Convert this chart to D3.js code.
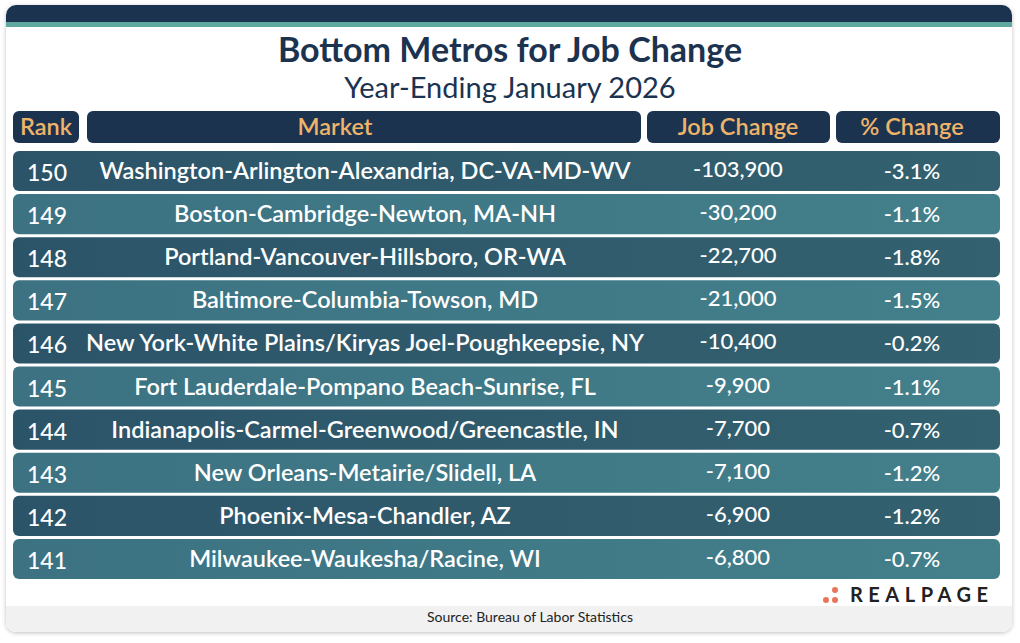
<!DOCTYPE html><html><head><meta charset="utf-8">
<script src="https://cdn.jsdelivr.net/npm/d3@7"></script>
<style>body{margin:0;background:#fff;font-family:Lato,sans-serif}</style></head><body>
<script>
const ranks=[150,149,148,147,146,145,144,143,142,141];
const markets=["Washington-Arlington-Alexandria, DC-VA-MD-WV","Boston-Cambridge-Newton, MA-NH","Portland-Vancouver-Hillsboro, OR-WA","Baltimore-Columbia-Towson, MD","New York-White Plains/Kiryas Joel-Poughkeepsie, NY","Fort Lauderdale-Pompano Beach-Sunrise, FL","Indianapolis-Carmel-Greenwood/Greencastle, IN","New Orleans-Metairie/Slidell, LA","Phoenix-Mesa-Chandler, AZ","Milwaukee-Waukesha/Racine, WI"];
const jobChange=[-103900,-30200,-22700,-21000,-10400,-9900,-7700,-7100,-6900,-6800];
const pctChange=[-3.1,-1.1,-1.8,-1.5,-0.2,-1.1,-0.7,-1.2,-1.2,-0.7];
const headers=["Rank","Market","Job Change","% Change"];
const W=1020,H=643;
const svg=d3.select("body").append("svg").attr("width",W).attr("height",H);
const defs=svg.append("defs");
const f=defs.append("filter").attr("id","sh").attr("x","-5%").attr("y","-5%").attr("width","110%").attr("height","110%");
f.append("feDropShadow").attr("dx",0).attr("dy",1).attr("stdDeviation",2).attr("flood-color","#000").attr("flood-opacity",0.25);
const cp=defs.append("clipPath").attr("id","card");
cp.append("rect").attr("x",6).attr("y",5).attr("width",1006).attr("height",627).attr("rx",10);
svg.append("rect").attr("x",6).attr("y",5).attr("width",1006).attr("height",627).attr("rx",10).attr("fill","#fff").attr("filter","url(#sh)");
const g=svg.append("g").attr("clip-path","url(#card)");
g.append("rect").attr("x",6).attr("y",5).attr("width",1006).attr("height",17).attr("fill","#1c3350");
g.append("rect").attr("x",6).attr("y",22).attr("width",1006).attr("height",5).attr("fill","#5fa9a0");
g.append("rect").attr("x",6).attr("y",606).attr("width",1006).attr("height",26).attr("fill","#f1f1f1");
svg.append("text").attr("x",510).attr("y",62).attr("text-anchor","middle").attr("font-size",34).attr("font-weight",700).attr("fill","#1c3350").text("Bottom Metros for Job Change");
svg.append("text").attr("x",510).attr("y",98).attr("text-anchor","middle").attr("font-size",29).attr("fill","#1c3350").text("Year-Ending January 2026");
const cols=[{x0:13,x1:79,cx:46},{x0:87,x1:641,cx:335},{x0:647,x1:830,cx:738},{x0:836,x1:1000,cx:912}];
headers.forEach((h,i)=>{const c=cols[i];
svg.append("rect").attr("x",c.x0).attr("y",111).attr("width",c.x1-c.x0).attr("height",32).attr("rx",6).attr("fill","#1c3350");
svg.append("text").attr("x",c.cx).attr("y",135).attr("text-anchor","middle").attr("font-size",23.5).attr("font-weight",600).attr("fill","#efb36a").text(h);});
const gd=defs.append("linearGradient").attr("id","gd");gd.append("stop").attr("offset","0").attr("stop-color","#2c5469");gd.append("stop").attr("offset","1").attr("stop-color","#33616f");
const gl=defs.append("linearGradient").attr("id","gl");gl.append("stop").attr("offset","0").attr("stop-color","#3c7282");gl.append("stop").attr("offset","1").attr("stop-color","#43808b");
const y=d3.scaleBand().domain(d3.range(ranks.length)).range([151,579]).paddingInner(0.07);
const fmt=d3.format(",");
ranks.forEach((r,i)=>{const yy=y(i),bh=y.bandwidth(),ty=yy+bh/2+8;
svg.append("rect").attr("x",13).attr("y",yy).attr("width",987).attr("height",bh).attr("rx",6).attr("fill",i%2?"url(#gl)":"url(#gd)");
svg.append("text").attr("x",27).attr("y",ty+2).attr("font-size",23).attr("fill","#fff").attr("font-weight",500).text(r);
svg.append("text").attr("x",365).attr("y",ty).attr("text-anchor","middle").attr("font-size",23.5).attr("font-weight",600).attr("fill","#fff").text(markets[i]);
svg.append("text").attr("x",cols[2].cx).attr("y",ty-2).attr("text-anchor","middle").attr("font-size",22).attr("fill","#fff").attr("font-weight",500).text(fmt(jobChange[i]).replace("−","-"));
svg.append("text").attr("x",cols[3].cx).attr("y",ty).attr("text-anchor","middle").attr("font-size",22).attr("fill","#fff").attr("font-weight",500).text(pctChange[i].toFixed(1)+"%");});
svg.append("text").attr("x",530).attr("y",622).attr("text-anchor","middle").attr("font-size",14).attr("fill","#222").text("Source: Bureau of Labor Statistics");
[[826,600],[835,590],[835,600]].forEach(([cx,cy])=>svg.append("circle").attr("cx",cx).attr("cy",cy).attr("r",3).attr("fill","#e8755a"));
svg.append("text").attr("x",850).attr("y",602).attr("font-size",20).attr("font-weight",700).attr("letter-spacing",5.5).attr("fill","#222").text("REALPAGE");
</script></body></html>
